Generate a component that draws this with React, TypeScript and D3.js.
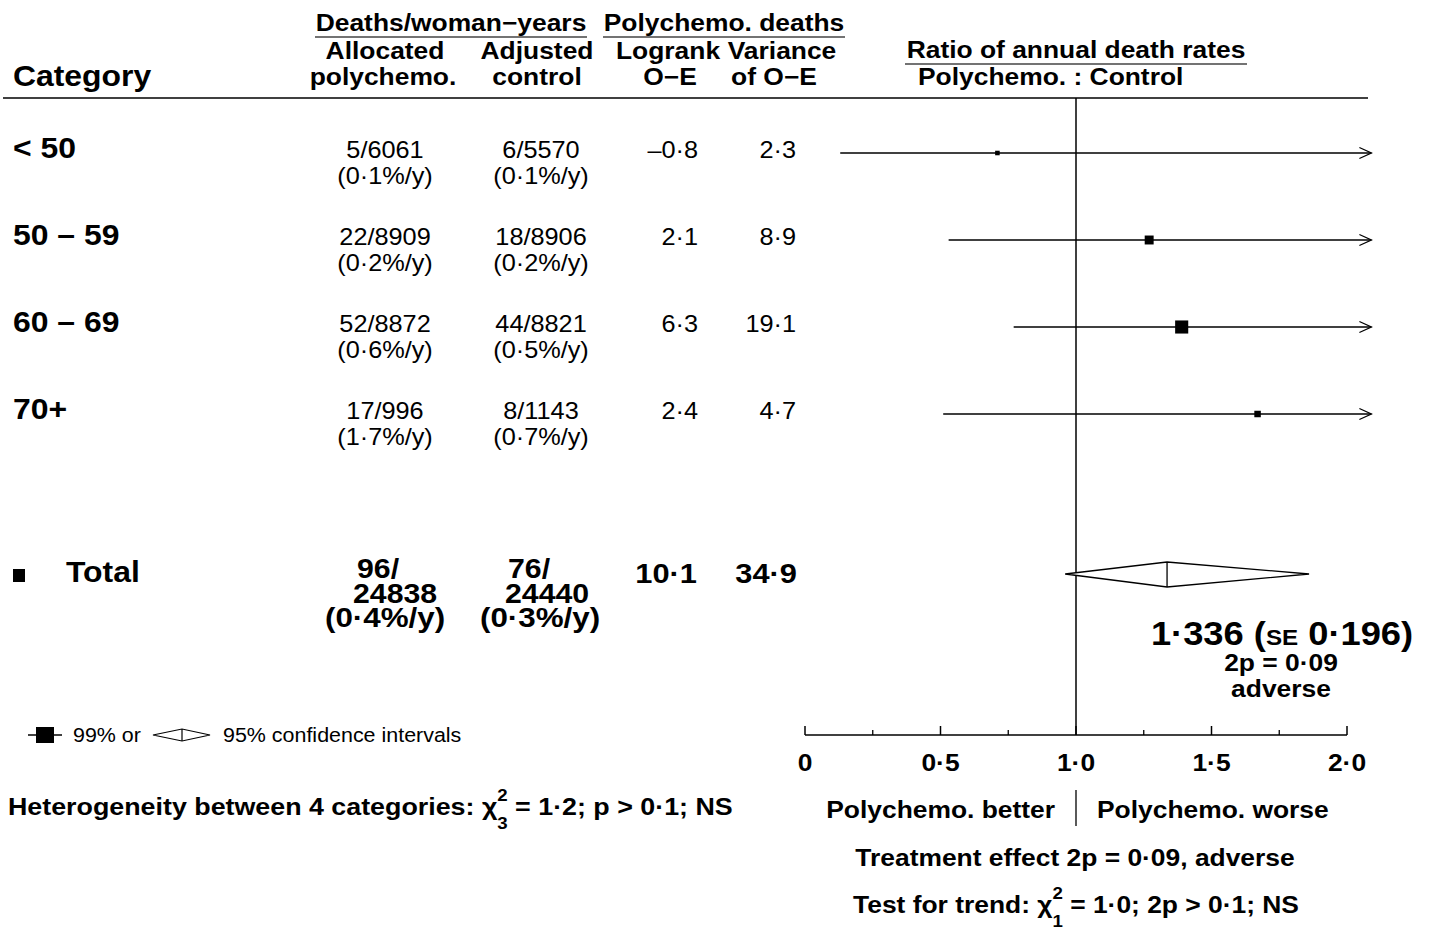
import React from "react";
import * as d3 from "d3";

// ---------- data ----------
const categories = ["< 50", "50 – 59", "60 – 69", "70+"];
const polyDeaths = [5, 22, 52, 17];
const polyYears = [6061, 8909, 8872, 996];
const polyRate = [0.1, 0.2, 0.6, 1.7];
const ctrlDeaths = [6, 18, 44, 8];
const ctrlYears = [5570, 8906, 8821, 1143];
const ctrlRate = [0.1, 0.2, 0.5, 0.7];
const logrankOE = [-0.8, 2.1, 6.3, 2.4];
const varianceOE = [2.3, 8.9, 19.1, 4.7];
const ratioEst = [0.71, 1.27, 1.39, 1.67];
const ratioLo99 = [0.13, 0.53, 0.77, 0.51];
const ratioHi99 = [3.86, 3.0, 2.51, 5.47];

const totalPoly = [96, 24838];
const totalPolyRate = 0.4;
const totalCtrl = [76, 24440];
const totalCtrlRate = 0.3;
const totalOE = 10.1;
const totalVar = 34.9;
const totalEst = 1.336;
const totalSE = 0.196;
const totalLo95 = 0.96;
const totalHi95 = 1.86;

const axisTicks = [0, 0.5, 1, 1.5, 2];
const minorTicks = [0.25, 0.75, 1.25, 1.75];

// ---------- helpers ----------
const FONT = "'Liberation Sans', Arial, Helvetica, sans-serif";
const SX = 1.1;

const fmt = (v: number, d = 1) =>
  d3.format(`.${d}f`)(v).replace(".", "·").replace("−", "–").replace("-", "–");

function T(props: any) {
  const { x, y, anchor = "start", size = 24, weight = "bold", children } = props;
  return (
    <text
      transform={`translate(${x},${y}) scale(${SX},1)`}
      textAnchor={anchor}
      fontSize={size}
      fontWeight={weight}
      fontFamily={FONT}
      fill="#000"
    >
      {children}
    </text>
  );
}

export default function App() {
  const x = d3.scaleLinear().domain([0, 2]).range([805, 1347]);
  const y = d3.scaleLinear().domain([0, 3]).range([153, 414]);
  const side = d3.scaleSqrt().domain([0, 20]).range([0, 13.4]);
  const xMax = 2.09;
  const totalY = 574;
  const axisY = 735;

  return (
    <svg
      width={1432}
      height={930}
      style={{ position: "absolute", left: 0, top: 0, background: "#fff", display: "block" }}
    >
      <rect x={0} y={0} width={1432} height={930} fill="#fff" />

      {/* Header */}
      <T x={451} y={31} anchor="middle">Deaths/woman−years</T>
      <line x1={315} x2={587} y1={37} y2={37} stroke="#444" strokeWidth={1.6} />
      <T x={724} y={31} anchor="middle">Polychemo. deaths</T>
      <line x1={603} x2={845} y1={37} y2={37} stroke="#444" strokeWidth={1.6} />
      <T x={385} y={59} anchor="middle">Allocated</T>
      <T x={537} y={59} anchor="middle">Adjusted</T>
      <T x={668} y={59} anchor="middle">Logrank</T>
      <T x={782} y={59} anchor="middle">Variance</T>
      <T x={383} y={85} anchor="middle">polychemo.</T>
      <T x={537} y={85} anchor="middle">control</T>
      <T x={670} y={85} anchor="middle">O−E</T>
      <T x={774} y={85} anchor="middle">of O−E</T>
      <T x={13} y={86} size={29}>Category</T>
      <T x={1076} y={58} anchor="middle">Ratio of annual death rates</T>
      <line x1={905} x2={1247} y1={64} y2={64} stroke="#444" strokeWidth={1.6} />
      <T x={918} y={85}>Polychemo. : Control</T>
      <line x1={3} x2={1368} y1={98} y2={98} stroke="#000" strokeWidth={1.5} />

      {/* vertical line of no effect */}
      <line x1={x(1)} x2={x(1)} y1={98} y2={axisY} stroke="#000" strokeWidth={1.5} />

      {/* Category rows */}
      {categories.map((c, i) => {
        const yy = y(i);
        const s = side(varianceOE[i]);
        const lo = x(Math.max(0, ratioLo99[i]));
        const hiClipped = ratioHi99[i] > xMax;
        const hi = x(Math.min(xMax, ratioHi99[i]));
        return (
          <g key={c}>
            <T x={13} y={yy + 5} size={29}>{c}</T>
            <T x={385} y={yy + 5} size={23} weight="normal" anchor="middle">
              {`${polyDeaths[i]}/${polyYears[i]}`}
            </T>
            <T x={385} y={yy + 31} size={23} weight="normal" anchor="middle">
              {`(${fmt(polyRate[i])}%/y)`}
            </T>
            <T x={541} y={yy + 5} size={23} weight="normal" anchor="middle">
              {`${ctrlDeaths[i]}/${ctrlYears[i]}`}
            </T>
            <T x={541} y={yy + 31} size={23} weight="normal" anchor="middle">
              {`(${fmt(ctrlRate[i])}%/y)`}
            </T>
            <T x={698} y={yy + 5} size={23} weight="normal" anchor="end">
              {fmt(logrankOE[i])}
            </T>
            <T x={796} y={yy + 5} size={23} weight="normal" anchor="end">
              {fmt(varianceOE[i])}
            </T>
            <line x1={lo} x2={hi} y1={yy} y2={yy} stroke="#000" strokeWidth={1.3} />
            {hiClipped && (
              <path
                d={`M${hi - 12},${yy - 5.5} L${hi},${yy} L${hi - 12},${yy + 5.5}`}
                fill="none"
                stroke="#000"
                strokeWidth={1.3}
              />
            )}
            <rect
              x={x(ratioEst[i]) - s / 2}
              y={yy - s / 2}
              width={s}
              height={s}
              fill="#000"
            />
          </g>
        );
      })}

      {/* Total row */}
      <rect x={13} y={totalY - 5} width={12} height={13} fill="#000" />
      <T x={66} y={totalY + 8} size={29}>Total</T>
      <T x={357} y={totalY + 4} size={27.5}>{`${totalPoly[0]}/`}</T>
      <T x={353} y={totalY + 29} size={27.5}>{`${totalPoly[1]}`}</T>
      <T x={385} y={totalY + 53} size={28.5} anchor="middle">{`(${fmt(totalPolyRate)}%/y)`}</T>
      <T x={508} y={totalY + 4} size={27.5}>{`${totalCtrl[0]}/`}</T>
      <T x={505} y={totalY + 29} size={27.5}>{`${totalCtrl[1]}`}</T>
      <T x={540} y={totalY + 53} size={28.5} anchor="middle">{`(${fmt(totalCtrlRate)}%/y)`}</T>
      <T x={697} y={totalY + 9} size={28} anchor="end">{fmt(totalOE)}</T>
      <T x={797} y={totalY + 9} size={28} anchor="end">{fmt(totalVar)}</T>

      <path
        d={`M${x(totalLo95)},${totalY} L${x(totalEst)},${totalY - 12} L${x(totalHi95)},${totalY} L${x(totalEst)},${totalY + 13} Z`}
        fill="#fff"
        stroke="#000"
        strokeWidth={1.3}
      />
      <line x1={x(totalEst)} x2={x(totalEst)} y1={totalY - 12} y2={totalY + 13} stroke="#000" strokeWidth={1.3} />

      <T x={1282} y={645} size={33} anchor="middle">
        {`${fmt(totalEst, 3)} (`}
        <tspan fontSize={22}>SE</tspan>
        {` ${fmt(totalSE, 3)})`}
      </T>
      <T x={1281} y={671} anchor="middle">2p = 0·09</T>
      <T x={1281} y={697} anchor="middle">adverse</T>

      {/* Axis */}
      <line x1={x(0)} x2={x(2)} y1={axisY} y2={axisY} stroke="#000" strokeWidth={1.5} />
      {axisTicks.map((t) => (
        <g key={t}>
          <line x1={x(t)} x2={x(t)} y1={axisY} y2={axisY - 9} stroke="#000" strokeWidth={1.5} />
          <T x={x(t)} y={771} anchor="middle">{t === 0 ? "0" : fmt(t)}</T>
        </g>
      ))}
      {minorTicks.map((t) => (
        <line key={t} x1={x(t)} x2={x(t)} y1={axisY} y2={axisY - 5} stroke="#000" strokeWidth={1.3} />
      ))}

      <T x={1055} y={818} anchor="end">Polychemo. better</T>
      <T x={1097} y={818}>Polychemo. worse</T>
      <line x1={x(1)} x2={x(1)} y1={790} y2={826} stroke="#000" strokeWidth={1.3} />
      <T x={1075} y={866} anchor="middle">Treatment effect 2p = 0·09, adverse</T>
      <T x={1076} y={913} anchor="middle">
        {"Test for trend: χ"}
        <tspan fontSize={17} dy={-14}>2</tspan>
        <tspan fontSize={17} dx={-9.5} dy={28}>1</tspan>
        <tspan fontSize={24} dy={-14}>{" = 1·0; 2p > 0·1; NS"}</tspan>
      </T>

      {/* Legend */}
      <line x1={28} x2={62} y1={735} y2={735} stroke="#000" strokeWidth={1.3} />
      <rect x={36} y={727} width={18} height={16} fill="#000" />
      <T x={73} y={742} size={19.5} weight="normal">99% or</T>
      <path d="M153,735 L182,729 L210,735 L182,741 Z" fill="#fff" stroke="#000" strokeWidth={1.2} />
      <line x1={182} x2={182} y1={729} y2={741} stroke="#000" strokeWidth={1.2} />
      <T x={223} y={742} size={19.5} weight="normal">95% confidence intervals</T>

      <T x={8} y={815} size={24.4}>
        {"Heterogeneity between 4 categories: χ"}
        <tspan fontSize={17} dy={-14}>2</tspan>
        <tspan fontSize={17} dx={-9.5} dy={28}>3</tspan>
        <tspan fontSize={24.4} dy={-14}>{" = 1·2; p > 0·1; NS"}</tspan>
      </T>
    </svg>
  );
}
